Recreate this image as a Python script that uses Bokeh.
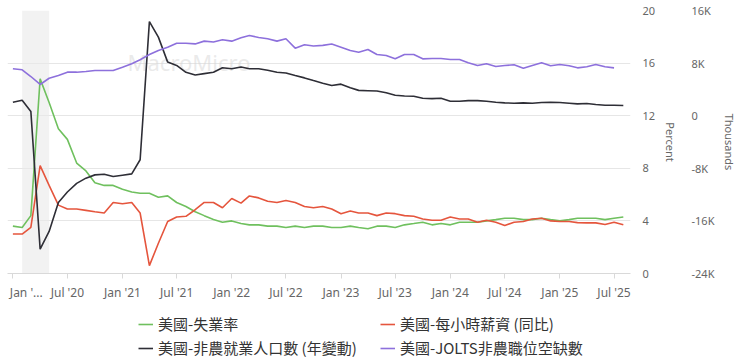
import pandas as pd
from bokeh.plotting import figure
from bokeh.layouts import column
from bokeh.models import (Range1d, LinearAxis, FixedTicker, Legend, LegendItem,
                          BoxAnnotation, Label, ColumnDataSource)
from bokeh.embed import file_html
from bokeh.resources import INLINE

# ---------------- data ----------------
months = pd.date_range("2020-01-01", "2025-08-01", freq="MS")          # 68 months
jolts_months = pd.date_range("2020-01-01", "2025-07-01", freq="MS")    # 67 months

unemployment = [
    3.6, 3.5, 4.4, 14.8, 13.0, 11.0, 10.2, 8.4, 7.8, 6.9, 6.7, 6.7,
    6.4, 6.2, 6.1, 6.1, 5.8, 5.9, 5.4, 5.1, 4.7, 4.4, 4.1, 3.9,
    4.0, 3.8, 3.7, 3.7, 3.6, 3.6, 3.5, 3.6, 3.5, 3.6, 3.6, 3.5,
    3.5, 3.6, 3.5, 3.4, 3.6, 3.6, 3.5, 3.7, 3.8, 3.9, 3.7, 3.8,
    3.7, 3.9, 3.9, 3.9, 4.0, 4.1, 4.2, 4.2, 4.1, 4.1, 4.2, 4.1,
    4.0, 4.1, 4.2, 4.2, 4.2, 4.1, 4.2, 4.3,
]
hourly_wage_yoy = [
    3.0, 3.0, 3.5, 8.2, 6.7, 5.2, 4.9, 4.9, 4.8, 4.7, 4.6, 5.4,
    5.3, 5.4, 4.6, 0.6, 2.3, 3.95, 4.3, 4.35, 4.85, 5.4, 5.4, 5.0,
    5.7, 5.35, 5.9, 5.75, 5.5, 5.4, 5.55, 5.4, 5.1, 5.0, 5.1, 4.9,
    4.55, 4.75, 4.6, 4.6, 4.4, 4.6, 4.55, 4.4, 4.35, 4.15, 4.05, 4.05,
    4.3, 4.15, 4.15, 3.9, 4.05, 3.9, 3.65, 3.9, 3.95, 4.15, 4.2, 4.0,
    3.95, 3.95, 3.87, 3.85, 3.85, 3.73, 3.9, 3.7,
]
payrolls_yoy = [  # thousands
    2050, 2350, 650, -20300, -17600, -13200, -11600, -10300, -9500, -9000, -8900, -9250,
    -9050, -8850, -6700, 14300, 11950, 8150, 7650, 6600, 6200, 6400, 6600, 7300,
    7150, 7400, 7150, 7150, 6900, 6600, 6500, 6100, 5750, 5350, 4950, 4600,
    4800, 4250, 3850, 3800, 3750, 3500, 3100, 3000, 2950, 2650, 2600, 2650,
    2200, 2200, 2300, 2300, 2200, 2050, 1950, 1900, 1950, 1900, 2000, 2050,
    2000, 1900, 1800, 1850, 1700, 1600, 1600, 1550,
]
jolts_openings = [  # thousands
    7130, 6980, 5960, 4750, 5700, 6110, 6620, 6620, 6720, 6870, 6870, 6870,
    7370, 7900, 8500, 9300, 9920, 10420, 11020, 11020, 10920, 11340, 11200, 11540,
    11340, 11850, 12200, 11900, 11700, 11340, 11700, 10270, 10800, 10600, 10700, 10900,
    10420, 9920, 9660, 10070, 9300, 9160, 8650, 9300, 9300, 8650, 8700, 8700,
    8550, 8550, 8050, 7640, 7900, 7480, 7640, 7740, 7200, 7640, 8050, 7600,
    7780, 7600, 7280, 7450, 7780, 7440, 7280,
]

series_names = ["美國-失業率", "美國-非農就業人口數 (年變動)",
                "美國-每小時薪資 (同比)", "美國-JOLTS非農職位空缺數"]
recession = ("2020-02-01", "2020-05-01")

x_ticks = pd.date_range("2020-01-01", "2025-07-01", freq="6MS")
x_tick_labels = ["Jan '...", "Jul '20", "Jan '21", "Jul '21", "Jan '22", "Jul '22",
                 "Jan '23", "Jul '23", "Jan '24", "Jul '24", "Jan '25", "Jul '25"]
pct_ticks = [0, 4, 8, 12, 16, 20]
k_ticks = [-24000, -16000, -8000, 0, 8000, 16000]
k_tick_labels = ["-24K", "-16K", "-8K", "0", "8K", "16K"]

GREEN, RED, BLACK, PURPLE = "#6fc05e", "#e5553d", "#2e2e36", "#8d70dc"
FONT = "Noto Sans"
CJK = "Noto Sans CJK TC"

def ms(t):
    return pd.Timestamp(t).value / 1e6

src = ColumnDataSource(dict(x=months, u=unemployment, w=hourly_wage_yoy, n=payrolls_yoy))
jsrc = ColumnDataSource(dict(x=jolts_months, j=jolts_openings))

# ---------------- main chart ----------------
p = figure(x_axis_type="datetime", y_axis_location="right",
           width=740, height=303,
           x_range=Range1d(ms("2019-12-14"), ms("2025-08-25")),
           y_range=Range1d(0, 20),
           output_backend="svg", toolbar_location=None,
           min_border_left=7, min_border_top=10,
           min_border_right=104, min_border_bottom=30)
p.outline_line_color = None
p.background_fill_color = "white"
p.extra_y_ranges = {"k": Range1d(-24000, 16000)}

p.add_layout(BoxAnnotation(left=ms(recession[0]), right=ms(recession[1]),
                           fill_color="#e9e9e9", fill_alpha=0.6, line_color=None,
                           level="underlay"))

p.add_layout(Label(x=ms("2021-01-18"), y=16.05, text="MacroMicro",
                   text_font=FONT, text_font_size="22px", text_color="#d5d5d5",
                   text_alpha=0.5, text_baseline="middle", level="underlay"))

p.line("x", "u", source=src, line_color=GREEN, line_width=1.6)
p.line("x", "w", source=src, line_color=RED, line_width=1.6)
p.line("x", "n", source=src, line_color=BLACK, line_width=1.6, y_range_name="k")
p.line("x", "j", source=jsrc, line_color=PURPLE, line_width=1.6, y_range_name="k")

# grids
tick_pct = FixedTicker(ticks=pct_ticks)
p.xgrid.visible = False
p.ygrid.ticker = tick_pct
p.ygrid.grid_line_color = "#e6e6e6"

# x axis
xa = p.xaxis[0]
x_ms = [ms(t) for t in x_ticks]
xa.ticker = FixedTicker(ticks=x_ms)
labels = list(x_tick_labels)
labels[0] = "\u00a0" * 3 + labels[0]
xa.major_label_overrides = dict(zip(x_ms, labels))
xa.axis_line_color = "#d9d9d9"
xa.major_tick_line_color = "#d9d9d9"
xa.major_tick_out = 5
xa.major_tick_in = 0
xa.minor_tick_line_color = None
xa.major_label_text_font = FONT
xa.major_label_text_font_size = "12px"
xa.major_label_text_color = "#666666"
xa.major_label_standoff = 5

# right axes
ya = p.yaxis[0]
ya.ticker = tick_pct
ya.axis_label = "Percent"
ka = LinearAxis(y_range_name="k", axis_label="Thousands")
ka.ticker = FixedTicker(ticks=k_ticks)
ka.major_label_overrides = dict(zip(k_ticks, k_tick_labels))
p.add_layout(ka, "right")
for ax, standoff, lstand in ((ya, 12, 5), (ka, 10, 5)):
    ax.axis_line_color = None
    ax.major_tick_line_color = None
    ax.minor_tick_line_color = None
    ax.major_tick_out = 0
    ax.major_tick_in = 0
    ax.major_label_standoff = standoff
    ax.major_label_text_font = FONT
    ax.major_label_text_font_size = "11px"
    ax.major_label_text_color = "#666666"
    ax.axis_label_text_font = FONT
    ax.axis_label_text_font_size = "11px"
    ax.axis_label_text_font_style = "normal"
    ax.axis_label_text_color = "#666666"
    ax.axis_label_standoff = lstand

# ---------------- legend strip ----------------
# the legend glyphs come from renderers of the same series; the strip's ranges
# keep the lines themselves out of view, only their legend swatches are drawn
lg = figure(width=740, height=57, x_range=Range1d(0, 1), y_range=Range1d(0, 1),
            output_backend="svg", toolbar_location=None, min_border=0)
lg.axis.visible = False
lg.grid.visible = False
lg.outline_line_color = None
proxies = {
    series_names[0]: lg.line("x", "u", source=src, line_color=GREEN, line_width=1.6),
    series_names[1]: lg.line("x", "n", source=src, line_color=BLACK, line_width=1.6),
    series_names[2]: lg.line("x", "w", source=src, line_color=RED, line_width=1.6),
    series_names[3]: lg.line("x", "j", source=jsrc, line_color=PURPLE, line_width=1.6),
}

legend = Legend(items=[LegendItem(label=n, renderers=[proxies[n]]) for n in series_names],
                ncols=2, orientation="vertical", location=(131, 2))
legend.label_text_font = CJK
legend.label_text_font_size = "15px"
legend.label_text_color = "#333333"
legend.glyph_width = 15
legend.glyph_height = 18
legend.label_height = 18
legend.label_width = 219
legend.label_standoff = 5
legend.spacing = 3
legend.padding = 0
legend.margin = 0
legend.border_line_color = None
legend.background_fill_alpha = 0
lg.add_layout(legend, "center")

layout = column(p, lg, spacing=0)
open("out.html", "w").write(file_html(layout, INLINE))
